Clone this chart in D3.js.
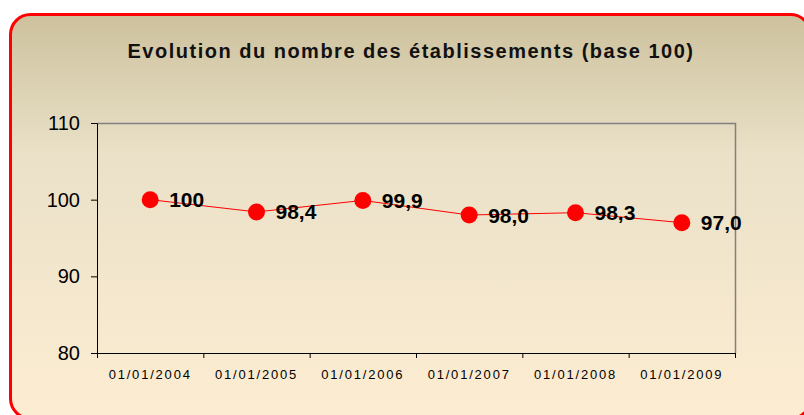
<!DOCTYPE html>
<html>
<head>
<meta charset="utf-8">
<script src="https://cdn.jsdelivr.net/npm/d3@7"></script>
<style>
  body { margin: 0; background: #fff; }
  text { font-family: "Liberation Sans", Arial, sans-serif; }
</style>
</head>
<body>
<div id="chart"></div>
<script>
// chart data
var dates = ["01/01/2004", "01/01/2005", "01/01/2006", "01/01/2007", "01/01/2008", "01/01/2009"];
var values = [100, 98.4, 99.9, 98.0, 98.3, 97.0];
var valueLabels = ["100", "98,4", "99,9", "98,0", "98,3", "97,0"];
var yTicks = [80, 90, 100, 110];
var title = "Evolution du nombre des établissements (base 100)";

var svgWidth = 804, svgHeight = 415;
var margin = { top: 123, left: 97, right: 69, bottom: 62 };
var width = svgWidth - margin.left - margin.right;
var height = svgHeight - margin.top - margin.bottom;

var svg = d3.select("#chart").append("svg")
    .attr("width", svgWidth)
    .attr("height", svgHeight);

// background gradient
var defs = svg.append("defs");
var grad = defs.append("linearGradient")
    .attr("id", "bg")
    .attr("x1", 0).attr("y1", 0).attr("x2", 0).attr("y2", 1);
grad.append("stop").attr("offset", "0%").attr("stop-color", "#cdc19d");
grad.append("stop").attr("offset", "35%").attr("stop-color", "#eae1c8");
grad.append("stop").attr("offset", "100%").attr("stop-color", "#fdedd2");

svg.append("rect")
    .attr("x", 10.5).attr("y", 14.5)
    .attr("width", 800).attr("height", 404)
    .attr("rx", 20).attr("ry", 20)
    .attr("fill", "url(#bg)")
    .attr("stroke", "#ff0000")
    .attr("stroke-width", 3);

// title
svg.append("text")
    .attr("x", 411).attr("y", 58)
    .attr("text-anchor", "middle")
    .attr("font-size", 20)
    .attr("font-weight", "bold")
    .attr("letter-spacing", 1.5)
    .attr("fill", "#111")
    .text(title);

var chartGroup = svg.append("g")
    .attr("transform", `translate(${margin.left}, ${margin.top})`);

var x = d3.scaleBand().domain(dates).range([0, width]);
var y = d3.scaleLinear().domain([80, 110]).range([height, 0]);

// top and right frame lines (grey)
chartGroup.append("path")
    .attr("d", `M0.5,0.5H${width + 0.5}V${height}`)
    .attr("fill", "none")
    .attr("stroke", "#808080")
    .attr("stroke-width", 1.5);

// y axis
var yAxis = chartGroup.append("g")
    .call(d3.axisLeft(y).tickValues(yTicks).tickSize(6).tickPadding(11));
yAxis.select(".domain").attr("stroke", "#000");
yAxis.selectAll("text")
    .attr("font-size", 20)
    .attr("fill", "#000")
    .style("font-family", "'Liberation Sans', Arial, sans-serif");

// x axis with ticks between categories
var xAxis = chartGroup.append("g")
    .attr("transform", `translate(0, ${height})`)
    .call(d3.axisBottom(x).tickSize(0).tickPadding(17));
xAxis.select(".domain").attr("stroke", "#000");
xAxis.selectAll("text")
    .attr("font-size", 13)
    .attr("letter-spacing", 1.8)
    .attr("fill", "#000")
    .style("font-family", "'Liberation Sans', Arial, sans-serif");
var bounds = dates.map(function (d) { return x(d); }).concat([width]);
xAxis.selectAll(".sep")
    .data(bounds)
    .enter()
    .append("line")
    .attr("class", "sep")
    .attr("x1", d => d + 0.5).attr("x2", d => d + 0.5)
    .attr("y1", 0).attr("y2", 5)
    .attr("stroke", "#000");

// line and points
var pts = dates.map(function (d, i) {
    return { date: d, value: values[i], label: valueLabels[i] };
});
var line = d3.line()
    .x(d => x(d.date) + x.bandwidth() / 2)
    .y(d => y(d.value));

chartGroup.append("path")
    .datum(pts)
    .attr("d", line)
    .attr("fill", "none")
    .attr("stroke", "#ff0000")
    .attr("stroke-width", 1);

chartGroup.selectAll("circle")
    .data(pts)
    .enter()
    .append("circle")
    .attr("cx", d => x(d.date) + x.bandwidth() / 2)
    .attr("cy", d => y(d.value))
    .attr("r", 8.5)
    .attr("fill", "#ff0000");

chartGroup.selectAll(".lbl")
    .data(pts)
    .enter()
    .append("text")
    .attr("class", "lbl")
    .attr("x", d => x(d.date) + x.bandwidth() / 2 + 19)
    .attr("y", d => y(d.value) + 7.5)
    .attr("font-size", 21)
    .attr("font-weight", "bold")
    .attr("fill", "#000")
    .text(d => d.label);
</script>
</body>
</html>
